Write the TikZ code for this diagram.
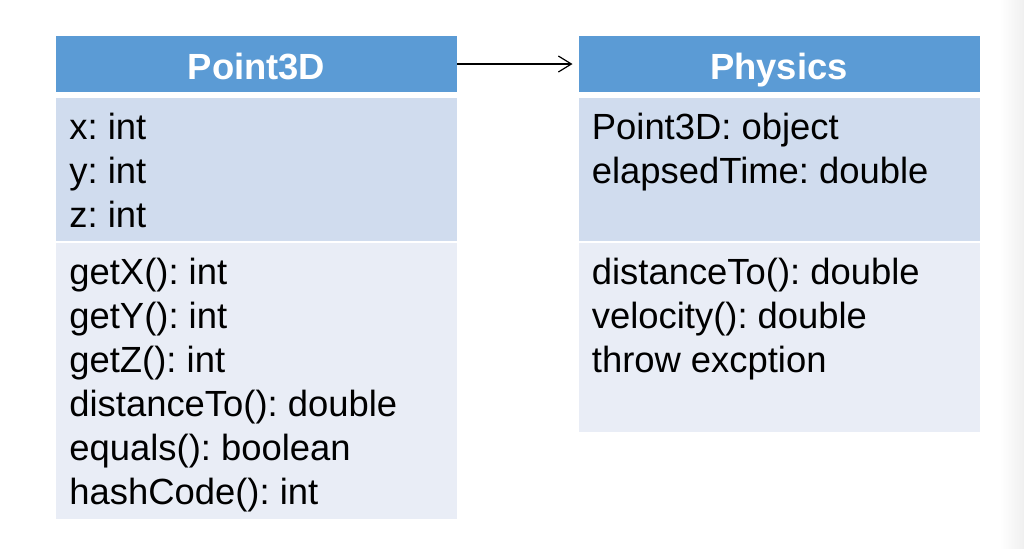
\documentclass[tikz,border=0pt]{standalone}
\usepackage{fontspec}
\setmainfont{Liberation Sans}
\usepackage{xcolor}
\usepackage{tikz}
\usetikzlibrary{arrows.meta, positioning}

\definecolor{hdrblue}{RGB}{91,155,213}
\definecolor{attrfill}{RGB}{208,220,238}
\definecolor{methfill}{RGB}{233,237,246}
\frenchspacing

\begin{document}
\begin{tikzpicture}[
  font=\fontsize{18.2pt}{22pt}\selectfont,
  section/.style={rectangle, inner sep=0pt, outer sep=0pt, minimum width=200.5pt},
  header/.style={section, fill=hdrblue, minimum height=28pt, text=white,
                 text height=15pt, text depth=0pt,
                 font=\fontsize{18.2pt}{22pt}\selectfont\bfseries},
  attrs/.style={section, fill=attrfill, minimum height=71.5pt},
  methods/.style={section, fill=methfill},
  member/.style={anchor=north west, inner sep=0pt, align=left},
  arr/.style={-{Straight Barb[length=6.5pt, width=8pt]}, line width=0.6pt, shorten >=3pt},
  node distance=3pt,
  ]
  \useasboundingbox (0pt,0pt) rectangle (512pt,-274pt);
  %% faint slide edge on the right
  \shade[left color=white, right color=black!6] (500pt,0pt) rectangle (512pt,-274pt);

  %% Class Point3D: header, attributes, methods
  \node[header] (pthdr) at (128.25pt,-32pt) {Point3D};
  \node[attrs, below=of pthdr] (ptattr) {};
  \node[methods, below=1pt of ptattr, minimum height=138pt] (ptmeth) {};
  \node[member] (ptattrtxt) at ([xshift=6.5pt, yshift=-5pt]ptattr.north west)
        {\strut x: int\\y: int\\z: int};
  \node[member] (ptmethtxt) at ([xshift=6.5pt, yshift=-5pt]ptmeth.north west)
        {\strut getX(): int\\getY(): int\\getZ(): int\\distanceTo(): double\\
         equals(): boolean\\hashCode(): int};

  %% Class Physics: header, attributes, methods
  \node[header] (phyhdr) at (389.5pt,-32pt) {Physics};
  \node[attrs, below=of phyhdr] (phyattr) {};
  \node[methods, below=1pt of phyattr, minimum height=94.5pt] (phymeth) {};
  \node[member] (phyattrtxt) at ([xshift=6.5pt, yshift=-5pt]phyattr.north west)
        {\strut Point3D: object\\elapsedTime: double};
  \node[member] (phymethtxt) at ([xshift=6.5pt, yshift=-5pt]phymeth.north west)
        {\strut distanceTo(): double\\velocity(): double\\throw excption};

  %% Association Point3D -> Physics
  \draw[arr] (pthdr.east) -- (phyhdr.west);
\end{tikzpicture}
\end{document}
